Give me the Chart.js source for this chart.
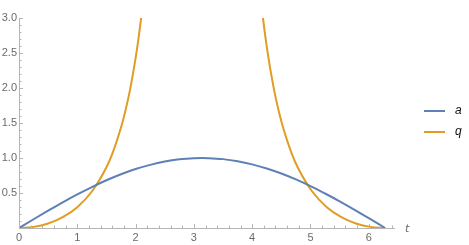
<!DOCTYPE html>
<html>
<head>
<meta charset="utf-8">
<script src="https://cdn.jsdelivr.net/npm/chart.js@4"></script>
<style>
  html, body { margin: 0; padding: 0; background: #fff; }
  #wrap { width: 469px; height: 245px; position: relative; }
</style>
</head>
<body>
<div id="wrap"><canvas id="plot"></canvas></div>
<script>
// values
const tA = [0, 0.25, 0.5, 0.75, 1, 1.25, 1.5, 1.75, 2, 2.25, 2.5, 2.75, 3, 3.14, 3.25, 3.5, 3.75, 4, 4.25, 4.5, 4.75, 5, 5.25, 5.5, 5.75, 6, 6.28];
const aVals = [0, 0.125, 0.247, 0.366, 0.479, 0.585, 0.682, 0.768, 0.842, 0.902, 0.949, 0.981, 0.998, 1.0, 0.998, 0.984, 0.954, 0.909, 0.850, 0.778, 0.694, 0.599, 0.493, 0.382, 0.264, 0.141, 0];

const tQ = [0, 0.25, 0.5, 0.75, 1, 1.25, 1.5, 1.6, 1.75, 1.8, 1.9, 2, 2.05, 2.1, 2.2, 3.14, 4.08, 4.18, 4.23, 4.28, 4.38, 4.48, 4.53, 4.68, 4.78, 5.03, 5.28, 5.53, 5.78, 6.03, 6.28];
const qVals = [0, 0.016, 0.065, 0.155, 0.298, 0.521, 0.868, 1.06, 1.436, 1.588, 1.955, 2.426, 2.709, 3.04, 3.86, null, 3.86, 3.04, 2.709, 2.426, 1.955, 1.588, 1.436, 1.06, 0.868, 0.521, 0.298, 0.155, 0.065, 0.016, 0];

const xTicks = [0, 1, 2, 3, 4, 5, 6];
const yTicks = [0.5, 1.0, 1.5, 2.0, 2.5, 3.0];
const seriesNames = ['a', 'q'];
const seriesColors = ['#5e81b5', '#e19c24'];

const axisColor = '#b5b5b5';
const labelColor = '#6b6b6b';

function pts(xs, ys) {
    return xs.map((x, i) => ({ x: x, y: ys[i] }));
}

// axes, inward tick marks, axis label and legend in Mathematica style
const mmaAxes = {
    id: 'mmaAxes',
    afterDraw(chart) {
        const ctx = chart.ctx;
        const xs = chart.scales.x, ys = chart.scales.y;
        const x0 = xs.getPixelForValue(0), y0 = ys.getPixelForValue(0);
        ctx.save();
        ctx.strokeStyle = axisColor;
        ctx.lineWidth = 1;
        ctx.beginPath();
        ctx.moveTo(xs.left, y0 + 0.5);
        ctx.lineTo(xs.right, y0 + 0.5);
        ctx.moveTo(x0 + 0.5, ys.bottom);
        ctx.lineTo(x0 + 0.5, ys.top);
        // x ticks
        for (let k = 0; k <= 32; k++) {
            const v = k * 0.2;
            if (v > xs.max) break;
            const px = Math.round(xs.getPixelForValue(v)) + 0.5;
            const len = (k % 5 === 0) ? 4 : 2.5;
            ctx.moveTo(px, y0);
            ctx.lineTo(px, y0 - len);
        }
        // y ticks
        for (let k = 1; k <= 30; k++) {
            const v = k * 0.1;
            const py = Math.round(ys.getPixelForValue(v)) + 0.5;
            const len = (k % 5 === 0) ? 4 : 2.5;
            ctx.moveTo(x0, py);
            ctx.lineTo(x0 + len, py);
        }
        ctx.stroke();

        ctx.fillStyle = labelColor;
        ctx.font = 'italic 11px "DejaVu Sans", sans-serif';
        ctx.textBaseline = 'middle';
        ctx.fillText('t', xs.right + 10, y0 + 1);

        // legend
        const lx = xs.right + 29;
        const ly = (chart.chartArea.top + chart.chartArea.bottom) / 2 - 12;
        chart.data.datasets.forEach((ds, i) => {
            const yy = ly + i * 21;
            ctx.strokeStyle = ds.borderColor;
            ctx.lineWidth = 2;
            ctx.beginPath();
            ctx.moveTo(lx, yy);
            ctx.lineTo(lx + 21, yy);
            ctx.stroke();
            ctx.fillStyle = '#111';
            ctx.font = 'italic 12px "Liberation Sans", sans-serif';
            ctx.fillText(ds.label, lx + 31, yy);
        });
        ctx.restore();
    }
};

new Chart(document.getElementById('plot'), {
    type: 'line',
    data: {
        datasets: [
            {
                label: seriesNames[0],
                data: pts(tA, aVals),
                borderColor: seriesColors[0],
                borderWidth: 2,
                pointRadius: 0,
                cubicInterpolationMode: 'monotone'
            },
            {
                label: seriesNames[1],
                data: pts(tQ, qVals),
                borderColor: seriesColors[1],
                borderWidth: 2,
                pointRadius: 0,
                spanGaps: false,
                cubicInterpolationMode: 'monotone'
            }
        ]
    },
    options: {
        responsive: true,
        maintainAspectRatio: false,
        animation: false,
        layout: { padding: { top: 18, right: 74, left: 0, bottom: 0 } },
        plugins: {
            legend: { display: false },
            tooltip: { enabled: false }
        },
        scales: {
            x: {
                type: 'linear',
                min: 0,
                max: 6.45,
                grid: { display: false, drawTicks: false },
                border: { display: false },
                afterBuildTicks: s => { s.ticks = xTicks.map(v => ({ value: v })); },
                afterFit: s => { s.height = 17; },
                ticks: {
                    color: labelColor,
                    padding: 3,
                    maxRotation: 0,
                    font: { size: 11, family: '"Liberation Sans", sans-serif' },
                    callback: v => String(v)
                }
            },
            y: {
                type: 'linear',
                min: 0,
                max: 3,
                grid: { display: false, drawTicks: false },
                border: { display: false },
                afterBuildTicks: s => { s.ticks = yTicks.map(v => ({ value: v })); },
                afterFit: s => { s.width = 19; },
                ticks: {
                    color: labelColor,
                    padding: 2,
                    font: { size: 11, family: '"Liberation Sans", sans-serif' },
                    callback: v => v.toFixed(1)
                }
            }
        }
    },
    plugins: [mmaAxes]
});
</script>
</body>
</html>
